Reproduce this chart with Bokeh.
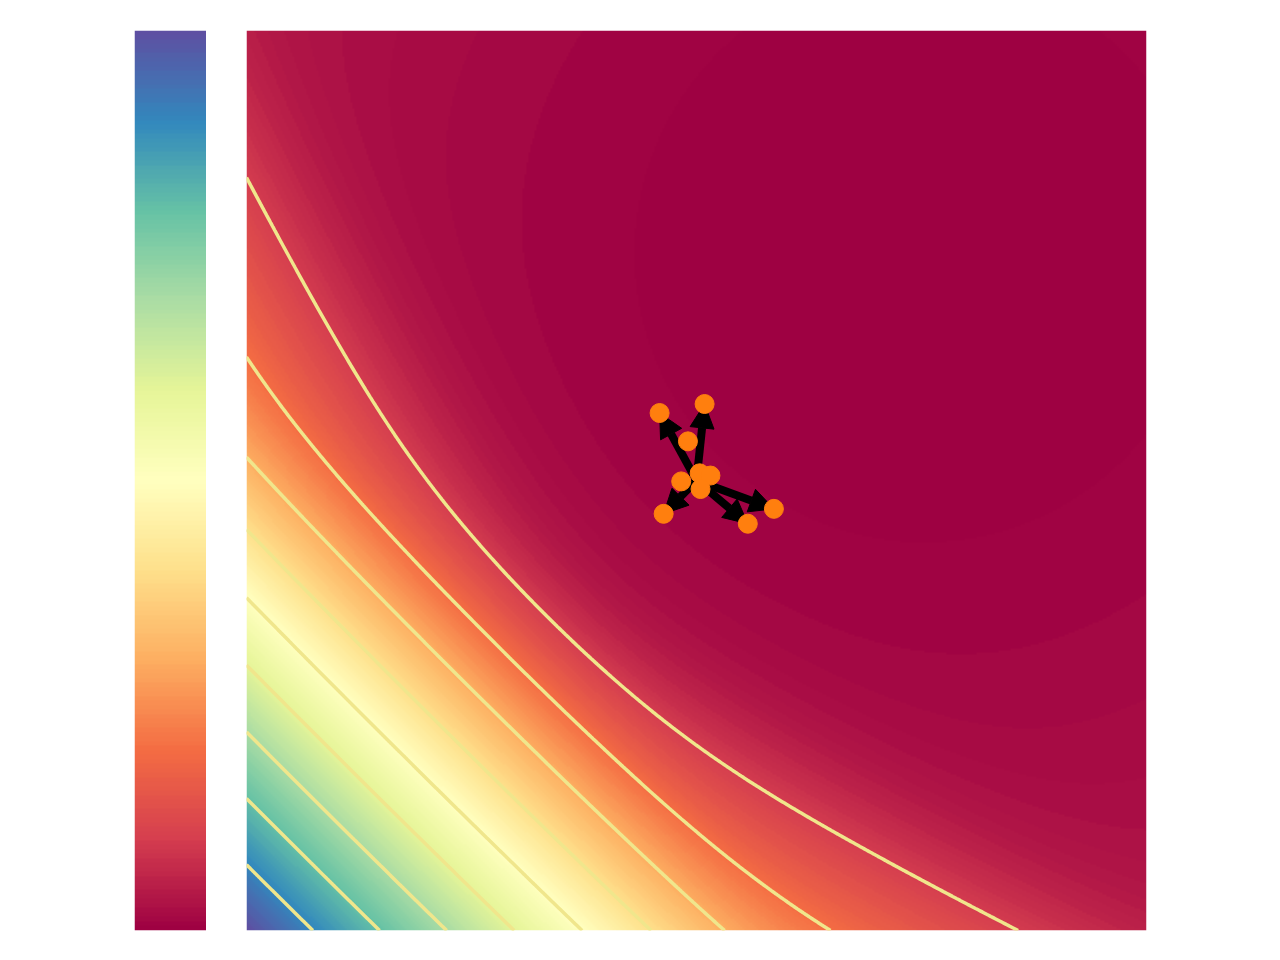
import numpy as np
from bokeh.plotting import figure
from bokeh.layouts import row
from bokeh.models import LinearColorMapper, Arrow, NormalHead, ColumnDataSource
from bokeh.palettes import Spectral11
from bokeh.embed import file_html
from bokeh.resources import INLINE

# ---------------- data ----------------
# plotted parameter window (centred on the current iterate)
x_lo, x_hi = -1.0, 1.0
y_lo, y_hi = -1.0, 1.0

# loss surface: two soft hinge terms plus a weak quadratic ridge
hinge_offset = 0.58
hinge_cross_1 = 0.593
hinge_cross_2 = 0.579
hinge_sharpness = 25.0
ridge_weight = 0.06
ridge_center_u = 0.75
ridge_center_v = 0.75

# contour levels (fraction of loss range) and number of filled bands
contour_levels = [0.1, 0.2, 0.3, 0.4, 0.5, 0.6, 0.7, 0.8, 0.9]
n_bands = 200

# current iterate (arrow origin) and the perturbed samples (arrow tips)
origin_x = [0.0, 0.0, 0.0, 0.0, 0.0]
origin_y = [0.0, 0.0, 0.0, 0.0, 0.0]
tip_x = [-0.082, 0.018, -0.073, 0.114, 0.172]
tip_y = [0.150, 0.170, -0.074, -0.096, -0.063]

# all sampled points
pts_x = [-0.082, 0.018, -0.019, 0.007, 0.031, -0.034, 0.009, -0.073, 0.114, 0.172]
pts_y = [0.150, 0.170, 0.087, 0.016, 0.011, -0.002, -0.019, -0.074, -0.096, -0.063]

# ---------------- surface ----------------
def softplus(z):
    return np.logaddexp(0.0, z)

n = 450
xs = np.linspace(x_lo, x_hi, n)
ys = np.linspace(y_lo, y_hi, n)
XX, YY = np.meshgrid(xs, ys)
U = (XX - x_lo) / (x_hi - x_lo)
V = (YY - y_lo) / (y_hi - y_lo)
k = hinge_sharpness
F = (softplus(k * (hinge_offset - U - hinge_cross_1 * V))
     + softplus(k * (hinge_offset - hinge_cross_2 * U - V))) / k
F = F + ridge_weight * ((U - ridge_center_u) ** 2 + (V - ridge_center_v) ** 2)
Z = (F - F.min()) / (F.max() - F.min())
Zq = (np.clip(np.floor(Z * n_bands), 0, n_bands - 1) + 0.5) / n_bands

# Spectral colormap (dark red = low, purple = high), 256 steps
base = list(reversed(Spectral11))
def hex2rgb(h):
    return np.array([int(h[i:i + 2], 16) for i in (1, 3, 5)], dtype=float)
base_rgb = np.array([hex2rgb(c) for c in base])
tpos = np.linspace(0, 1, len(base))
palette = []
for t in np.linspace(0, 1, 256):
    rgb = [np.interp(t, tpos, base_rgb[:, j]) for j in range(3)]
    palette.append("#%02x%02x%02x" % tuple(int(round(c)) for c in rgb))
mapper = LinearColorMapper(palette=palette, low=0.0, high=1.0)

# ---------------- colour bar figure ----------------
cb = figure(width=206, height=960, x_range=(0, 1), y_range=(0, 1),
            output_backend="svg", toolbar_location=None,
            x_axis_location=None, y_axis_location=None,
            min_border_left=134, min_border_right=0,
            min_border_top=30, min_border_bottom=30)
cb.grid.visible = False
cb.outline_line_color = None
cb.background_fill_color = "white"
cb.border_fill_color = "white"
grad = ((np.arange(n_bands) + 0.5) / n_bands).reshape(-1, 1)
cb.image(image=[grad], x=0, y=0, dw=1, dh=1, color_mapper=mapper)

# ---------------- main figure ----------------
p = figure(width=1074, height=960, x_range=(x_lo, x_hi), y_range=(y_lo, y_hi),
           output_backend="svg", toolbar_location=None,
           x_axis_location=None, y_axis_location=None,
           min_border_left=40, min_border_right=134,
           min_border_top=30, min_border_bottom=30)
p.grid.visible = False
p.outline_line_color = None
p.border_fill_color = "white"

img = p.image(image=[Zq], x=x_lo, y=y_lo, dw=x_hi - x_lo, dh=y_hi - y_lo,
              color_mapper=mapper)
img.level = "image"

p.contour(x=xs, y=ys, z=Z, levels=contour_levels,
          line_color="khaki", line_width=3.5)

arrow_src = ColumnDataSource(dict(x0=origin_x, y0=origin_y, x1=tip_x, y1=tip_y))
arrows = Arrow(end=NormalHead(size=24, fill_color="black", line_color="black"),
               x_start="x0", y_start="y0", x_end="x1", y_end="y1",
               source=arrow_src, line_color="black", line_width=8,
               level="underlay")
p.add_layout(arrows)

p.scatter(pts_x, pts_y, size=19, fill_color="#ff7f0e", line_color="#ff7f0e")

layout = row(cb, p, spacing=0)
open("out.html", "w").write(file_html(layout, INLINE))
